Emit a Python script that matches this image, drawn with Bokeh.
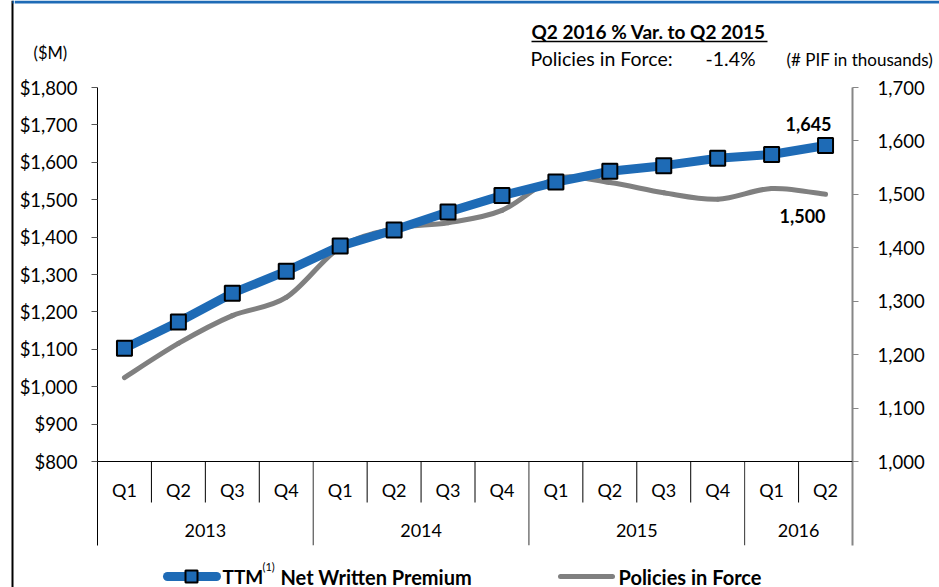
from bokeh.plotting import figure
from bokeh.layouts import row, column
from bokeh.models import (Range1d, LinearAxis, FixedTicker, NumeralTickFormatter, Span,
                          ColumnDataSource)
from bokeh.core.properties import value
from bokeh.embed import file_html
from bokeh.resources import INLINE

# ---------------- data ----------------
years = ["2013", "2014", "2015", "2016"]
year_counts = [4, 4, 4, 2]
quarters = ["Q1", "Q2", "Q3", "Q4", "Q1", "Q2", "Q3", "Q4", "Q1", "Q2", "Q3", "Q4", "Q1", "Q2"]
nwp = [1103, 1173, 1250, 1309, 1376, 1419, 1467, 1511, 1547, 1576, 1591, 1611, 1621, 1645]  # $M
pif = [1157, 1221, 1273, 1307, 1401, 1436, 1447, 1470, 1530, 1522, 1503, 1491, 1511, 1500]  # thousands
left_ticks = [800, 900, 1000, 1100, 1200, 1300, 1400, 1500, 1600, 1700, 1800]
right_ticks = [1000, 1100, 1200, 1300, 1400, 1500, 1600, 1700]
nwp_label = "1,645"
pif_label = "1,500"
header_title = "Q2 2016 % Var. to Q2 2015"
header_row = "Policies in Force:"
header_var = "-1.4%"
unit_left = "($M)"
unit_right = "(# PIF in thousands)"
legend_nwp = ["TTM", "(1)", "Net Written Premium"]
legend_pif = "Policies in Force"

# ---------------- layout constants (page pixels) ----------------
W, H = 939, 587
BW = 14                    # width of the left border strip
HEAD_H = 72                # header strip height
LEG_TOP = 552              # legend strip top
FL, FR, FT, FB = 97, 852, 87, 545
AX800 = 461
n = len(quarters)
CW = (FR - FL) / n
KL = (AX800 - FT) / (left_ticks[-1] - left_ticks[0])
KR = (AX800 - FT) / (right_ticks[-1] - right_ticks[0])
y_bot = left_ticks[0] - (FB - AX800) / KL
p_bot = right_ticks[0] - (FB - AX800) / KR

BLUE = "#1E6BB6"
GRAY = "#808080"
FONT = "Lato"
TICK_SIZE = "18.5px"


def strip(x0, x1, y0, y1):
    f = figure(width=x1 - x0, height=y1 - y0, output_backend="svg", toolbar_location=None,
               x_range=Range1d(x0, x1), y_range=Range1d(y1, y0),
               x_axis_location=None, y_axis_location=None, min_border=0,
               min_border_left=0, min_border_right=0, min_border_top=0, min_border_bottom=0,
               frame_align=False)
    f.outline_line_color = None
    f.xgrid.visible = False
    f.ygrid.visible = False
    f.background_fill_color = "white"
    f.border_fill_color = "white"
    return f


def htext(f, x, y, txt, size, bold=False, align="left", baseline="middle"):
    f.text(x=[x], y=[y], text=[txt], text_font=value(FONT), text_font_size=size,
           text_font_style="bold" if bold else "normal", text_color="black",
           text_align=align, text_baseline=baseline)


# ---------------- left border strip ----------------
border = strip(0, BW, 0, H)
border.quad(left=[11], right=[13], top=[0], bottom=[H], fill_color="black", line_color=None)
border.quad(left=[12], right=[BW], top=[0], bottom=[3], fill_color=BLUE, line_color=None)

# ---------------- header strip ----------------
head = strip(BW, W, 0, HEAD_H)
head.quad(left=[BW], right=[W], top=[0], bottom=[3], fill_color=BLUE, line_color=None)
htext(head, 33, 52, unit_left, "16.5px")
htext(head, 531, 31, header_title, "19px", bold=True)
head.segment(x0=[531], y0=[41], x1=[767], y1=[41], line_color="black", line_width=1.5)
htext(head, 530, 58, header_row, "19.5px")
htext(head, 705, 58, header_var, "19.5px")
htext(head, 786, 59, unit_right, "17px")

# ---------------- main chart ----------------
p = figure(width=W - BW, height=LEG_TOP - HEAD_H, output_backend="svg", toolbar_location=None,
           x_range=Range1d(0, n), y_range=Range1d(y_bot, left_ticks[-1]),
           x_axis_location=None, y_axis_location=None, min_border=0,
           min_border_left=FL - BW, min_border_right=W - FR,
           min_border_top=FT - HEAD_H, min_border_bottom=LEG_TOP - FB, frame_align=False)
p.extra_y_ranges = {"pif": Range1d(p_bot, right_ticks[-1])}
p.outline_line_color = None
p.xgrid.visible = False
p.ygrid.visible = False
p.background_fill_color = "white"
p.border_fill_color = "white"

la = LinearAxis(ticker=FixedTicker(ticks=left_ticks), formatter=NumeralTickFormatter(format="$0,0"))
la.axis_line_color = "black"
la.major_tick_line_color = "#555555"
la.major_tick_out = 6
la.major_tick_in = 0
la.minor_tick_line_color = None
la.major_label_text_font = FONT
la.major_label_text_font_size = TICK_SIZE
la.major_label_text_color = "black"
la.major_label_standoff = 14
p.add_layout(la, "left")

ra = LinearAxis(y_range_name="pif", ticker=FixedTicker(ticks=right_ticks),
                formatter=NumeralTickFormatter(format="0,0"))
ra.axis_line_color = "#868686"
ra.axis_line_width = 2
ra.major_tick_line_color = "#868686"
ra.major_tick_out = 6
ra.major_tick_in = 0
ra.minor_tick_line_color = None
ra.major_label_text_font = FONT
ra.major_label_text_font_size = TICK_SIZE
ra.major_label_text_color = "black"
ra.major_label_standoff = 19
p.add_layout(ra, "right")

p.add_layout(Span(location=left_ticks[0], dimension="width", line_color="black", line_width=1))

xs = [i + 0.5 for i in range(n)]
starts = [0]
for c in year_counts:
    starts.append(starts[-1] + c)
y_bounds = starts[1:-1]
q_only = [b for b in range(1, n) if b not in y_bounds]
q_sep_y = left_ticks[0] - 41 / KL
p.segment(x0=q_only, y0=[left_ticks[0]] * len(q_only), x1=q_only, y1=[q_sep_y] * len(q_only),
          line_color="black", line_width=1)
p.segment(x0=y_bounds, y0=[left_ticks[0]] * len(y_bounds), x1=y_bounds, y1=[y_bot] * len(y_bounds),
          line_color="#333333", line_width=1)

p.text(x=xs, y=[left_ticks[0] - 28 / KL] * n, text=quarters, text_align="center", text_baseline="middle",
       text_font=value(FONT), text_font_size="18px", text_color="black")
ycent = [(starts[i] + starts[i + 1]) / 2 for i in range(len(years))]
p.text(x=ycent, y=[left_ticks[0] - 69 / KL] * len(years), text=years, text_align="center",
       text_baseline="middle", text_font=value(FONT), text_font_size="18px", text_color="black")

# Policies in force: smoothed curve through the points
x0, y0, x1, y1, cx0, cy0, cx1, cy1 = [], [], [], [], [], [], [], []
for i in range(n - 1):
    xm = xs[i - 1] if i > 0 else xs[i]
    ym = pif[i - 1] if i > 0 else pif[i]
    xp = xs[i + 2] if i + 2 < n else xs[i + 1]
    yp = pif[i + 2] if i + 2 < n else pif[i + 1]
    x0.append(xs[i]); y0.append(pif[i]); x1.append(xs[i + 1]); y1.append(pif[i + 1])
    cx0.append(xs[i] + (xs[i + 1] - xm) / 6); cy0.append(pif[i] + (pif[i + 1] - ym) / 6)
    cx1.append(xs[i + 1] - (xp - xs[i]) / 6); cy1.append(pif[i + 1] - (yp - pif[i]) / 6)
p.bezier(x0=x0, y0=y0, x1=x1, y1=y1, cx0=cx0, cy0=cy0, cx1=cx1, cy1=cy1,
         line_color=GRAY, line_width=5, line_cap="round", y_range_name="pif")

src = ColumnDataSource(dict(x=xs, y=nwp))
p.line("x", "y", source=src, line_color=BLUE, line_width=9, line_join="round")
p.scatter("x", "y", source=src, marker="square", size=15, fill_color=BLUE,
          line_color="black", line_width=2)

p.text(x=[xs[-1]], y=[nwp[-1]], text=[nwp_label], text_align="center", text_baseline="middle",
       x_offset=-17, y_offset=-21, text_font=value(FONT), text_font_style="bold",
       text_font_size="18px", text_color="black")
p.text(x=[xs[-1]], y=[pif[-1]], text=[pif_label], text_align="center", text_baseline="middle",
       x_offset=-23, y_offset=22, text_font=value(FONT), text_font_style="bold",
       text_font_size="18px", text_color="black", y_range_name="pif")

# ---------------- legend strip ----------------
leg = strip(BW, W, LEG_TOP, H)
LY = 576
leg.segment(x0=[167], y0=[LY], x1=[216], y1=[LY], line_color=BLUE, line_width=9, line_cap="round")
leg.scatter(x=[191], y=[LY], marker="square", size=12, fill_color=BLUE, line_color="black", line_width=2)
htext(leg, 222, LY, legend_nwp[0], "19px", bold=True)
htext(leg, 262, 566, legend_nwp[1], "11px")
htext(leg, 280, LY, legend_nwp[2], "20px", bold=True)
leg.segment(x0=[560], y0=[LY], x1=[612], y1=[LY], line_color=GRAY, line_width=5, line_cap="round")
htext(leg, 618, LY, legend_pif, "20px", bold=True)

layout = row(border, column(head, p, leg, spacing=0), spacing=0)
open("out.html", "w").write(file_html(layout, INLINE))
